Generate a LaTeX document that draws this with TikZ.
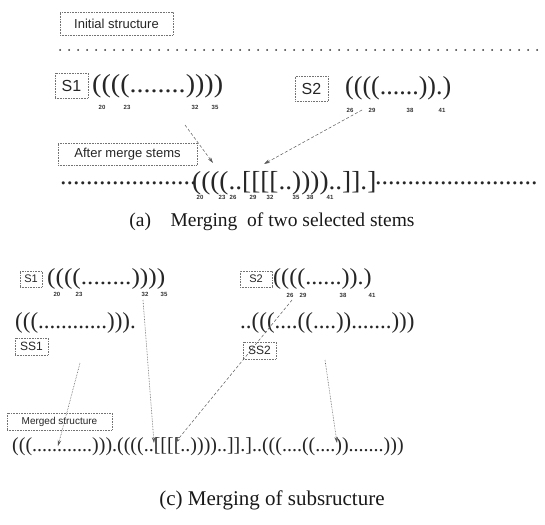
\documentclass[tikz,border=0pt]{standalone}
\usepackage{fontspec}
\setmainfont{Liberation Serif}
\newfontfamily\lsans{Liberation Sans}
\usetikzlibrary{arrows.meta}
\newcommand{\sx}[2]{\scalebox{#1}[1]{#2}}
\tikzset{
  lab/.style={draw=black!55, densely dotted, line width=0.6pt, inner sep=0pt, text=black!85,
              font=\lsans\fontsize{13}{14}\selectfont},
  str/.style={inner sep=0pt, anchor=west, text=black!85, font=\fontsize{26}{28}\selectfont},
  strc/.style={str, font=\fontsize{23}{25}\selectfont},
  strm/.style={str, font=\fontsize{20}{22}\selectfont},
  num/.style={inner sep=0pt, text=black!80, font=\lsans\bfseries\fontsize{6}{7}\selectfont},
  captext/.style={inner sep=0pt, text=black!90, font=\fontsize{19.5}{21}\selectfont},
  arra/.style={draw=black!65, densely dashed, line width=0.5pt, -{Stealth[length=6pt,width=3.5pt]}},
  arrc/.style={draw=black!65, densely dotted, line width=0.6pt, -{Stealth[length=6pt,width=3.5pt]}},
  dotline/.style={draw=black!80, line width=2pt, line cap=round, dash pattern=on 0pt off 9pt}
}
\begin{document}
\begin{tikzpicture}[x=1pt,y=-1pt]
\useasboundingbox (0,0) rectangle (545,524);
\fill[white] (0,0) rectangle (545,524);
% ---------- (a) ----------
\node[lab, minimum width=113, minimum height=23] (init) at (116.5,23.5) {Initial structure};
\coordinate (dl1) at (60,50);
\coordinate (dl2) at (545,50);
\draw[dotline] (dl1) -- (dl2);
\node[lab, minimum width=33, minimum height=25, font=\lsans\fontsize{16}{18}\selectfont] (s1) at (71.5,85.5) {S1};
\node[str] (s1str) at (92,86) {\sx{1.08}{((((........))))}};
\node[num] (n1a) at (102,107) {20};
\node[num] (n1b) at (127,107) {23};
\node[num] (n1c) at (195,107) {32};
\node[num] (n1d) at (215,107) {35};
\node[lab, minimum width=33, minimum height=25, font=\lsans\fontsize{16}{18}\selectfont] (s2) at (311.5,89) {S2};
\node[str] (s2str) at (345,88) {((((......)).)};
\node[num] (n2a) at (350,110) {26};
\node[num] (n2b) at (372,110) {29};
\node[num] (n2c) at (410,110) {38};
\node[num] (n2d) at (442,110) {41};
\node[lab, minimum width=139, minimum height=22] (after) at (127.5,154) {After merge stems};
\node[str] (mleft) at (60,183) {.....................};
\node[str] (mstr) at (192,183) {\sx{1.05}{((((..[[[[..))))..]].]}};
\node[str] (mright) at (375,183) {.........................};
\node[num] (m20) at (200,197) {20};
\node[num] (m23) at (222,197) {23};
\node[num] (m26) at (233,197) {26};
\node[num] (m29) at (253,197) {29};
\node[num] (m32) at (270,197) {32};
\node[num] (m35) at (296,197) {35};
\node[num] (m38) at (310,197) {38};
\node[num] (m41) at (330,197) {41};
\coordinate (a1s) at (185,125);
\coordinate (a1e) at (213,163);
\coordinate (a2s) at (362,110);
\coordinate (a2e) at (264,164);
\draw[arra] (a1s) -- (a1e);
\draw[arra] (a2s) -- (a2e);
\node[captext] (capa) at (272,222) {(a)\quad Merging\enspace of two selected stems};
% ---------- (c) ----------
\node[lab, minimum width=22, minimum height=16, font=\lsans\fontsize{11}{12}\selectfont] (cs1) at (31,279) {S1};
\node[strc] (cs1str) at (47,279) {\sx{1.1}{((((........))))}};
\node[num] (c1a) at (57,294) {20};
\node[num] (c1b) at (79,294) {23};
\node[num] (c1c) at (145,294) {32};
\node[num] (c1d) at (164,294) {35};
\node[lab, minimum width=32, minimum height=16, font=\lsans\fontsize{11}{12}\selectfont] (cs2) at (256,279) {S2};
\node[strc] (cs2str) at (273,279) {\sx{1.05}{((((......)).)}};
\node[num] (c2a) at (290,295) {26};
\node[num] (c2b) at (303,295) {29};
\node[num] (c2c) at (343,295) {38};
\node[num] (c2d) at (372,295) {41};
\node[strc] (ss1str) at (15,323) {(((............))).};
\node[lab, minimum width=33, minimum height=17, font=\lsans\fontsize{12}{13}\selectfont] (ss1) at (31.5,346.5) {SS1};
\node[strc] (ss2str) at (240,323) {..(((....((....)).......)))};
\node[lab, minimum width=33, minimum height=17, font=\lsans\fontsize{12}{13}\selectfont] (ss2) at (259.5,350.5) {SS2};
\node[lab, minimum width=105, minimum height=17, font=\lsans\fontsize{10}{11}\selectfont] (merged) at (59.5,421.5) {Merged structure};
\node[strm] (mergedstr) at (12,447) {(((............))).((((..[[[[..))))..]].]..(((....((....)).......)))};
\coordinate (c1s) at (80,363);
\coordinate (c1e) at (58,446);
\coordinate (c2s) at (143,300);
\coordinate (c2e) at (154,443);
\coordinate (c3s) at (292,300);
\coordinate (c3e) at (175,443);
\coordinate (c4s) at (325,360);
\coordinate (c4e) at (337,443);
\draw[arrc] (c1s) -- (c1e);
\draw[arrc] (c2s) -- (c2e);
\draw[arra] (c3s) -- (c3e);
\draw[arrc] (c4s) -- (c4e);
\node[captext, font=\fontsize{21}{23}\selectfont] (capc) at (272,500) {(c) Merging of subsructure};
\end{tikzpicture}
\end{document}
